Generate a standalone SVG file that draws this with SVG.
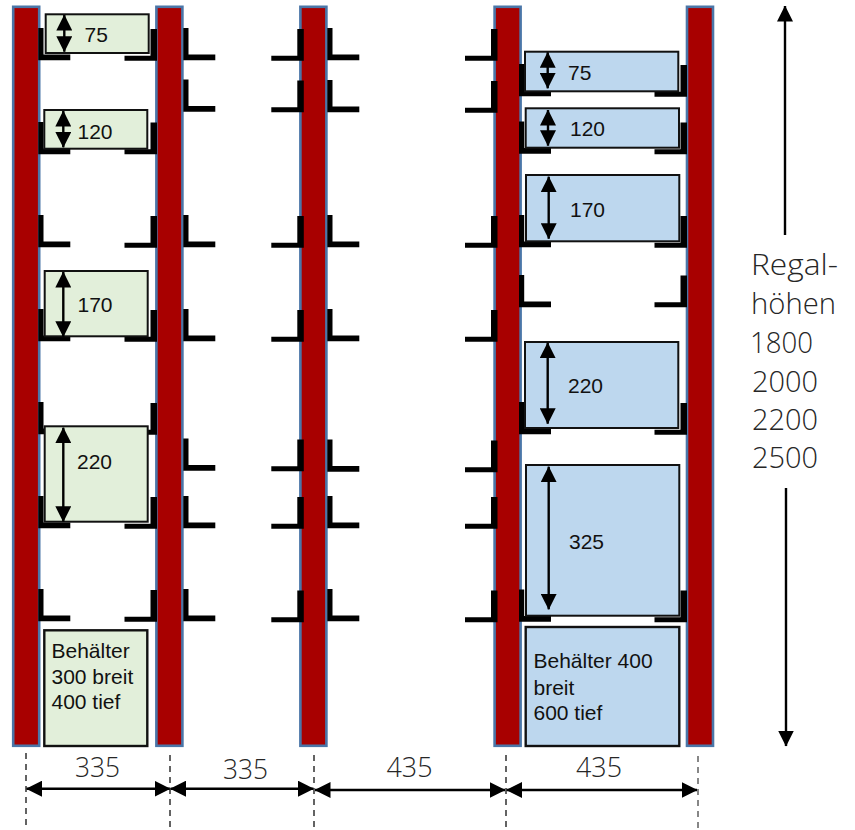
<svg xmlns="http://www.w3.org/2000/svg" width="855" height="830" viewBox="0 0 855 830">
<style>
.up{fill:#a80000;stroke:#4a76a8;stroke-width:2.6}
.g{fill:#e2efda;stroke:#111;stroke-width:2}
.b{fill:#bdd7ee;stroke:#111;stroke-width:2}
.t{font-family:"Liberation Sans",Arial,sans-serif;font-size:21px;fill:#111}
.d{font-family:"Open Sans",sans-serif;font-weight:300;font-size:28px;fill:#262626}
.r{font-family:"Open Sans",sans-serif;font-weight:300;font-size:30px;fill:#262626}
.ar{fill:none;stroke:#000;stroke-width:2.4;marker-start:url(#hs);marker-end:url(#he)}
.ds{fill:none;stroke:#222;stroke-width:1.4;stroke-dasharray:6 5}
</style>
<defs>
<marker id="he" markerUnits="userSpaceOnUse" markerWidth="16" markerHeight="16" refX="15.5" refY="8" orient="auto"><path d="M0 0L16 8L0 16Z" fill="#000"/></marker>
<marker id="hs" markerUnits="userSpaceOnUse" markerWidth="16" markerHeight="16" refX="0.5" refY="8" orient="auto"><path d="M16 0L0 8L16 16Z" fill="#000"/></marker>
<path id="rf" d="M0 0H5.2V26.5H32V32.3H0Z" fill="#000"/>
<path id="lf" d="M32.5 0H26V26.8H0V31.8H32.5Z" fill="#000"/>
</defs>
<g id="uprights">
<rect id="upright1" class="up" x="13.2" y="6.8" width="26" height="739"/>
<rect id="upright2" class="up" x="156.4" y="6.8" width="26" height="739"/>
<rect id="upright3" class="up" x="300.4" y="6.8" width="26" height="739"/>
<rect id="upright4" class="up" x="494.6" y="6.8" width="26" height="739"/>
<rect id="upright5" class="up" x="687" y="6.8" width="26" height="739"/>
</g>
<g id="brackets">
<use href="#rf" x="38.3" y="28"/><use href="#rf" x="38.3" y="122"/><use href="#rf" x="38.3" y="215"/><use href="#rf" x="38.3" y="309"/><use href="#rf" x="38.3" y="402"/><use href="#rf" x="38.3" y="496"/><use href="#rf" x="38.3" y="589"/>
<use href="#lf" x="124.5" y="29"/><use href="#lf" x="124.5" y="122.5"/><use href="#lf" x="124.5" y="216"/><use href="#lf" x="124.5" y="310"/><use href="#lf" x="124.5" y="403"/><use href="#lf" x="124.5" y="497"/><use href="#lf" x="124.5" y="590"/>
<use href="#rf" x="183.3" y="28"/><use href="#rf" x="183.3" y="79.5"/><use href="#rf" x="183.3" y="215"/><use href="#rf" x="183.3" y="309"/><use href="#rf" x="183.3" y="438.5"/><use href="#rf" x="183.3" y="496"/><use href="#rf" x="183.3" y="589"/>
<use href="#lf" x="271.3" y="29"/><use href="#lf" x="271.3" y="80.5"/><use href="#lf" x="271.3" y="216"/><use href="#lf" x="271.3" y="310"/><use href="#lf" x="271.3" y="439.5"/><use href="#lf" x="271.3" y="497"/><use href="#lf" x="271.3" y="590.5"/>
<use href="#rf" x="327.3" y="28"/><use href="#rf" x="327.3" y="80"/><use href="#rf" x="327.3" y="215"/><use href="#rf" x="327.3" y="309"/><use href="#rf" x="327.3" y="439.5"/><use href="#rf" x="327.3" y="496"/><use href="#rf" x="327.3" y="589"/>
<use href="#lf" x="465" y="29"/><use href="#lf" x="465" y="81"/><use href="#lf" x="465" y="216"/><use href="#lf" x="465" y="310"/><use href="#lf" x="465" y="440.5"/><use href="#lf" x="465" y="497"/><use href="#lf" x="465" y="590.5"/>
<use href="#rf" x="519" y="64"/><use href="#rf" x="519" y="121.5"/><use href="#rf" x="519" y="215"/><use href="#rf" x="519" y="275"/><use href="#rf" x="519" y="402"/><use href="#rf" x="519" y="589.5"/>
<use href="#lf" x="654.5" y="65"/><use href="#lf" x="654.5" y="122.5"/><use href="#lf" x="654.5" y="216"/><use href="#lf" x="654.5" y="275.5"/><use href="#lf" x="654.5" y="403"/><use href="#lf" x="654.5" y="590.5"/>
</g>
<g id="box-g75"><rect class="g" x="45.7" y="14.3" width="103" height="38.7"/><text class="t" x="84.5" y="42">75</text></g>
<g id="box-g120"><rect class="g" x="44.3" y="110" width="103" height="38.7"/><text class="t" x="77.5" y="139">120</text></g>
<g id="box-g170"><rect class="g" x="44.7" y="271" width="103" height="65.3"/><text class="t" x="77.5" y="312">170</text></g>
<g id="box-g220"><rect class="g" x="44.7" y="426.3" width="103" height="95.4"/><text class="t" x="77" y="469">220</text></g>
<g id="box-g-info"><rect class="g" x="44.3" y="630.3" width="103" height="115.7" style="stroke-width:2.4"/><text class="t" x="51.5" y="658">Behälter</text><text class="t" x="51.5" y="684">300 breit</text><text class="t" x="51.5" y="709">400 tief</text></g>
<g id="box-b75"><rect class="b" x="525" y="51.7" width="153.3" height="39.6"/><text class="t" x="568" y="80">75</text></g>
<g id="box-b120"><rect class="b" x="525.7" y="108.3" width="153.3" height="39.4"/><text class="t" x="570" y="136">120</text></g>
<g id="box-b170"><rect class="b" x="526" y="175" width="153.3" height="66.3"/><text class="t" x="570" y="217">170</text></g>
<g id="box-b220"><rect class="b" x="525" y="342" width="153.3" height="86"/><text class="t" x="568" y="393">220</text></g>
<g id="box-b325"><rect class="b" x="526" y="465" width="153.3" height="150.7"/><text class="t" x="569" y="549">325</text></g>
<g id="box-b-info"><rect class="b" x="525.7" y="627" width="153.6" height="119" style="stroke-width:2.4"/><text class="t" x="533.5" y="668">Behälter 400</text><text class="t" x="533.5" y="695">breit</text><text class="t" x="533.5" y="720">600 tief</text></g>
<g id="connectors">
<path class="ar" d="M64.3 15V51.7"/>
<path class="ar" d="M63.3 111V147.3"/>
<path class="ar" d="M63.3 272V336.7"/>
<path class="ar" d="M63.3 427.7V521.7"/>
<path class="ar" d="M547.7 52.3V88.3"/>
<path class="ar" d="M548 110V145.7"/>
<path class="ar" d="M548.7 176.7V238.7"/>
<path class="ar" d="M547.7 342.7V423.7"/>
<path class="ar" d="M548.7 466.7V609.3"/>
<path class="ar" d="M26.5 788.7H170"/>
<path class="ar" d="M170.5 788.7H313.5"/>
<path class="ar" d="M315 790H505"/>
<path class="ar" d="M506.5 790H697"/>
<path fill="none" stroke="#000" stroke-width="2.4" marker-start="url(#hs)" d="M785 6V235"/>
<path fill="none" stroke="#000" stroke-width="2.4" marker-end="url(#he)" d="M786 488V746"/>
<path class="ds" d="M26 753V828"/>
<path class="ds" d="M170 755V830"/>
<path class="ds" d="M314 755V830"/>
<path class="ds" d="M506 755V830"/>
<path class="ds" d="M698 756V830" style="stroke:#555"/>
</g>
<g id="labels">
<text class="d" x="75" y="777" textLength="45" lengthAdjust="spacingAndGlyphs">335</text>
<text class="d" x="223" y="779" textLength="45" lengthAdjust="spacingAndGlyphs">335</text>
<text class="d" x="386.5" y="776.5" textLength="46" lengthAdjust="spacingAndGlyphs">435</text>
<text class="d" x="576" y="776.5" textLength="46" lengthAdjust="spacingAndGlyphs">435</text>
<text class="r" x="751" y="275" textLength="87" lengthAdjust="spacingAndGlyphs">Regal-</text>
<text class="r" x="751" y="314" textLength="85" lengthAdjust="spacingAndGlyphs">höhen</text>
<text class="r" x="750" y="353" textLength="63" lengthAdjust="spacingAndGlyphs">1800</text>
<text class="r" x="752" y="391.5" textLength="66" lengthAdjust="spacingAndGlyphs">2000</text>
<text class="r" x="752" y="430" textLength="66" lengthAdjust="spacingAndGlyphs">2200</text>
<text class="r" x="752" y="468" textLength="66" lengthAdjust="spacingAndGlyphs">2500</text>
</g>
</svg>
